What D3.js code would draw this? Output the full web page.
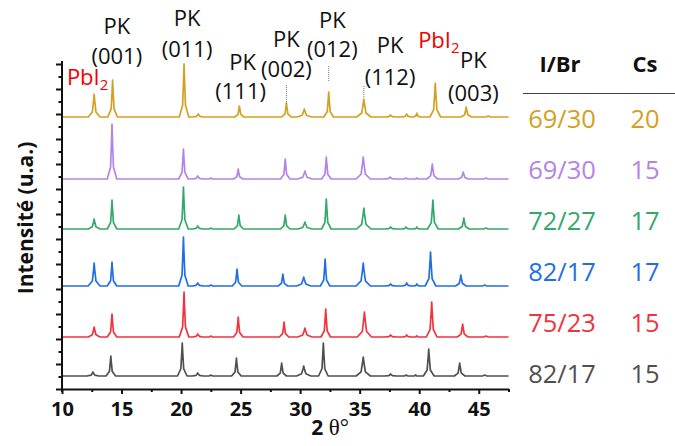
<!DOCTYPE html>
<html><head><meta charset="utf-8">
<script src="https://cdn.jsdelivr.net/npm/d3@7"></script>
<style>
html,body{margin:0;padding:0;background:#fff;}
svg{display:block;}
text{font-family:"Open Sans","Noto Sans",sans-serif;}
</style></head>
<body>
<svg id="chart" width="675" height="446"></svg>
<script>
// ---------- data ----------
const xTicksMajor = [10, 15, 20, 25, 30, 35, 40, 45];
const xTicksMinor = [12.5, 17.5, 22.5, 27.5, 32.5, 37.5, 42.5, 47.5];
const peakHalfWidths = [0.5, 0.4, 0.4, 0.45, 0.4, 0.4, 0.4, 0.6, 0.4, 0.6, 0.5, 0.4, 0.3, 0.45, 0.45, 0.5];

const seriesIBr = ["69/30", "69/30", "72/27", "82/17", "75/23", "82/17"];
const seriesCs = ["20", "15", "17", "17", "15", "15"];
const seriesColors = ["#D4A022", "#B583E6", "#33A86A", "#1F6FE3", "#F0333D", "#4F4F4F"];
const seriesOffsets = [272, 210, 160, 103, 52, 13];

const pos0 = [12.7, 14.25, 20.25, 21.45, 22.6, 24.9, 28.85, 30.35, 32.4, 35.35, 37.6, 38.95, 39.8, 41.35, 43.95, 45.8];
const int0 = [23, 37, 53, 3, 0, 11, 14, 8, 25, 18, 2, 3, 4, 34, 10, 1];
const pos1 = [12.7, 14.2, 20.2, 21.4, 22.5, 24.8, 28.75, 30.4, 32.2, 35.3, 37.55, 38.9, 39.8, 41.1, 43.7, 45.6];
const int1 = [0, 55, 30, 3, 1, 10, 20, 8, 22, 22, 2, 1, 1, 15, 7, 1];
const pos2 = [12.7, 14.2, 20.2, 21.4, 22.5, 24.85, 28.75, 30.4, 32.2, 35.35, 37.6, 38.9, 39.8, 41.15, 43.75, 45.6];
const int2 = [10, 29, 42, 3, 1, 14, 14, 7, 30, 21, 2, 2, 2, 29, 11, 1];
const pos3 = [12.7, 14.2, 20.2, 21.4, 22.5, 24.7, 28.55, 30.3, 32.1, 35.3, 37.6, 38.95, 39.8, 40.95, 43.5, 45.5];
const int3 = [23, 24, 49, 3, 1, 17, 12, 9, 27, 23, 2, 3, 2, 34, 11, 1];
const pos4 = [12.7, 14.2, 20.25, 21.4, 22.5, 24.8, 28.65, 30.4, 32.15, 35.4, 37.6, 38.95, 39.8, 41.05, 43.65, 45.6];
const int4 = [10, 23, 45, 3, 1, 20, 15, 9, 28, 25, 2, 2, 1, 35, 13, 1];
const pos5 = [12.6, 14.1, 20.1, 21.4, 22.5, 24.65, 28.45, 30.3, 31.95, 35.3, 37.6, 38.9, 39.7, 40.8, 43.4, 45.5];
const int5 = [4, 20, 33, 3, 1, 18, 13, 10, 33, 19, 2, 1, 1, 27, 13, 1];

const seriesPositions = [pos0, pos1, pos2, pos3, pos4, pos5];
const seriesIntensities = [int0, int1, int2, int3, int4, int5];

const annotPK = [
  {top: "PK", bottom: "(001)", x: 14.6},
  {top: "PK", bottom: "(011)", x: 20.5},
  {top: "PK", bottom: "(111)", x: 25.0},
  {top: "PK", bottom: "(002)", x: 28.85},
  {top: "PK", bottom: "(012)", x: 32.7},
  {top: "PK", bottom: "(112)", x: 37.55},
  {top: "PK", bottom: "(003)", x: 44.55}
];
const annotPbI2 = [12.15, 41.65];
const dottedX = [28.85, 32.4, 35.35];

// ---------- drawing ----------
const svg = d3.select("#chart");
const x = d3.scaleLinear().domain([10, 47.5]).range([62, 508.5]);
const y = d3.scaleLinear().domain([0, 327]).range([389, 62]);

// traces
const line = d3.line().x(d => x(d[0])).y(d => y(d[1]));
seriesPositions.forEach((ps, i) => {
  const off = seriesOffsets[i];
  const pts = [[10, off], [47.5, off]];
  ps.forEach((p, j) => {
    const h = seriesIntensities[i][j];
    if (h <= 0) return;
    const w = peakHalfWidths[j];
    pts.push([p - w, off], [p - w * 0.3, off + h * 0.22], [p - w * 0.08, off + h * 0.75], [p, off + h],
             [p + w * 0.08, off + h * 0.75], [p + w * 0.3, off + h * 0.22], [p + w, off]);
  });
  pts.sort((a, b) => a[0] - b[0]);
  svg.append("path").datum(pts).attr("d", line)
    .attr("fill", "none").attr("stroke", seriesColors[i])
    .attr("stroke-width", 1.7).attr("stroke-linejoin", "round");
});

// axes
const yTickVals = d3.range(0, 27).map(k => k * 12.5);
const gy = svg.append("g").attr("transform", `translate(${x(10)},0)`)
  .call(d3.axisLeft(y).tickValues(yTickVals).tickFormat("").tickSize(6).tickSizeOuter(0));
gy.select(".domain").attr("d", `M0,${y(0) + 3}V${y(328)}`).attr("stroke-width", 2).attr("stroke", "#111");
gy.selectAll(".tick line").attr("stroke-width", 2).attr("stroke", "#111")
  .attr("x2", (d, i) => (i % 2 === 0 ? -6 : -3.5));

const gx = svg.append("g").attr("transform", `translate(0,${y(0)})`)
  .call(d3.axisBottom(x).tickValues(xTicksMajor).tickSize(5).tickSizeOuter(0).tickPadding(8));
gx.select(".domain").attr("stroke-width", 2).attr("stroke", "#111");
gx.selectAll(".tick line").attr("stroke-width", 2).attr("stroke", "#111");
gx.selectAll(".tick text").attr("font-size", 20).attr("font-weight", "bold")
  .attr("fill", "#111").attr("font-family", "'Open Sans',sans-serif");
const gxm = svg.append("g").attr("transform", `translate(0,${y(0)})`)
  .call(d3.axisBottom(x).tickValues(xTicksMinor).tickSize(3).tickFormat("").tickSizeOuter(0));
gxm.select(".domain").remove();
gxm.selectAll(".tick line").attr("stroke-width", 2).attr("stroke", "#111");

// axis titles
const xt = svg.append("text").attr("x", 330).attr("y", 435).attr("text-anchor", "middle")
  .attr("fill", "#111");
xt.append("tspan").text("2 ").attr("font-weight", "bold").attr("font-size", 21);
xt.append("tspan").text("θ°").attr("font-family", "'Liberation Serif',serif").attr("font-size", 23);

svg.append("text").attr("transform", "translate(33,218) rotate(-90)")
  .attr("text-anchor", "middle").attr("font-size", 21).attr("font-weight", "bold")
  .attr("fill", "#111").text("Intensité (u.a.)");

// dotted guide lines
const dotSpans = [[85, 104], [66, 82], [86, 97]];
dottedX.forEach((d, i) => {
  svg.append("line").attr("x1", x(d)).attr("x2", x(d))
    .attr("y1", dotSpans[i][0]).attr("y2", dotSpans[i][1])
    .attr("stroke", "#777").attr("stroke-width", 1).attr("stroke-dasharray", "1,1");
});

// PK annotations
const pkYs = [[34, 64], [26, 57], [70, 99], [47, 77], [28, 57], [53, 85], [68, 101]];
annotPK.forEach((a, i) => {
  const cx = x(a.x);
  svg.append("text").attr("x", cx + (i === 2 ? 2 : 0)).attr("y", pkYs[i][0]).attr("text-anchor", "middle")
    .attr("font-size", 22).attr("fill", "#111").text(a.top);
  svg.append("text").attr("x", cx).attr("y", pkYs[i][1]).attr("text-anchor", "middle")
    .attr("font-size", 22).attr("fill", "#111").text(a.bottom);
});

// PbI2 annotations
const pbYs = [85, 48];
annotPbI2.forEach((d, i) => {
  const t = svg.append("text").attr("x", x(d)).attr("y", pbYs[i]).attr("text-anchor", "middle")
    .attr("font-size", 22).attr("fill", "#F00000");
  t.append("tspan").text("PbI");
  t.append("tspan").text("2").attr("font-size", 15).attr("dy", 5);
});

// legend table
svg.append("text").attr("x", 560).attr("y", 72).attr("text-anchor", "middle")
  .attr("font-size", 22).attr("font-weight", "bold").attr("fill", "#111").text("I/Br");
svg.append("text").attr("x", 645).attr("y", 72).attr("text-anchor", "middle")
  .attr("font-size", 22).attr("font-weight", "bold").attr("fill", "#111").text("Cs");
svg.append("line").attr("x1", 523).attr("x2", 675).attr("y1", 93.5).attr("y2", 93.5)
  .attr("stroke", "#444").attr("stroke-width", 1.2);
seriesIBr.forEach((lab, i) => {
  const by = 128 + i * 51;
  svg.append("text").attr("x", 562).attr("y", by).attr("text-anchor", "middle")
    .attr("font-size", 25.5).attr("fill", seriesColors[i]).text(lab);
  svg.append("text").attr("x", 645).attr("y", by).attr("text-anchor", "middle")
    .attr("font-size", 25.5).attr("fill", seriesColors[i]).text(seriesCs[i]);
});
</script>
</body></html>
